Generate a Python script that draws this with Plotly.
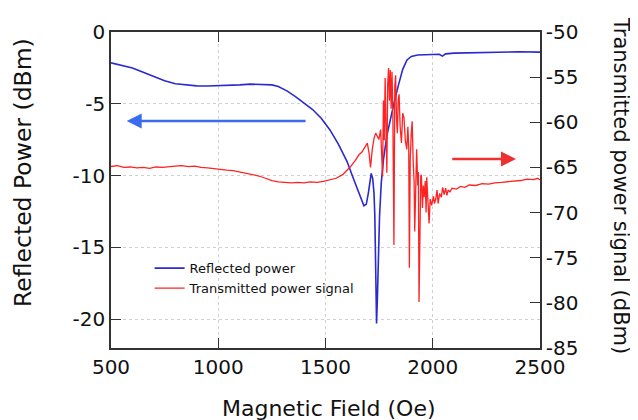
import plotly.graph_objects as go

# Reflected power (left axis, dBm)
field_refl = [500, 550, 600, 650, 700, 750, 800, 850, 900, 950, 1000, 1050, 1100,
              1150, 1200, 1250, 1280, 1320, 1360, 1400, 1440, 1480, 1520, 1560, 1600,
              1630, 1660, 1679, 1690, 1700, 1713, 1720, 1726, 1730, 1734, 1738, 1742,
              1746, 1752, 1760, 1770, 1785, 1800, 1820, 1840, 1860, 1880, 1900, 1930,
              1960, 2000, 2030, 2045, 2060, 2100, 2200, 2300, 2400, 2500]
refl_power = [-2.15, -2.3, -2.5, -2.8, -3.1, -3.4, -3.6, -3.7, -3.75, -3.76, -3.75, -3.72,
              -3.68, -3.63, -3.63, -3.68, -3.8, -4.1, -4.5, -4.95, -5.4, -6.0, -6.8, -7.8,
              -9.0, -10.2, -11.4, -12.1, -12.0, -11.2, -9.85, -10.2, -11.2, -12.8, -16.5,
              -20.3, -18.5, -15.8, -12.8, -10.5, -8.9, -7.3, -6.2, -4.9, -3.7, -2.6, -1.95,
              -1.7, -1.6, -1.58, -1.52, -1.55, -1.68, -1.52, -1.47, -1.43, -1.4, -1.38, -1.4]

# Transmitted power signal (right axis, dBm)
field_trans = [500, 530, 560, 590, 620, 650, 680, 710, 740, 770, 800, 830, 860, 890, 920,
               950, 980, 1010, 1040, 1070, 1100, 1130, 1160, 1190, 1220, 1250, 1280, 1310,
               1340, 1370, 1400, 1430, 1460, 1490, 1520, 1550, 1580, 1617, 1640, 1656,
               1670, 1685, 1695, 1703, 1710, 1718, 1726, 1734, 1741, 1749, 1757, 1762,
               1766, 1770, 1774, 1778, 1782, 1786, 1790, 1794, 1798, 1802, 1806, 1810,
               1814, 1819, 1823, 1827, 1831, 1835, 1839, 1843, 1848, 1854, 1860, 1866,
               1872, 1879, 1884, 1888, 1891, 1895, 1900, 1904, 1909, 1913, 1916, 1920,
               1925, 1930, 1933, 1936, 1940, 1944, 1947, 1952, 1956, 1960, 1965, 1969,
               1972, 1977, 1983, 1988, 1995, 2003, 2008, 2014, 2020, 2025, 2032, 2040,
               2046, 2053, 2060, 2066, 2072, 2080, 2090, 2110, 2130, 2150, 2170, 2200,
               2230, 2260, 2290, 2320, 2350, 2380, 2410, 2440, 2470, 2490, 2500]
trans_power = [-64.9, -64.8, -65.0, -64.95, -65.05, -65.0, -65.1, -64.95, -65.0, -64.9,
               -64.85, -64.8, -64.9, -64.85, -65.0, -65.05, -65.15, -65.2, -65.3, -65.35,
               -65.5, -65.6, -65.8, -65.95, -66.2, -66.45, -66.6, -66.65, -66.7, -66.65,
               -66.7, -66.6, -66.65, -66.55, -66.4, -66.2, -65.8, -64.9, -64.2, -63.6,
               -63.3, -62.7, -62.3, -63.4, -65.0, -63.0, -61.8, -61.2, -61.6, -61.9,
               -60.8, -63.5, -66.0, -57.6, -62.0, -55.1, -60.5, -65.6, -55.8, -54.0,
               -57.6, -54.2, -58.5, -54.4, -59.0, -73.6, -56.0, -54.8, -59.5, -61.2,
               -57.5, -56.9, -60.5, -62.3, -59.0, -59.5, -62.0, -63.0, -60.5, -62.8,
               -76.1, -64.0, -61.2, -59.9, -64.5, -66.5, -72.1, -65.5, -63.0, -67.0,
               -65.5, -79.9, -68.5, -66.0, -65.8, -69.5, -67.0, -68.3, -66.5, -70.0,
               -66.1, -69.0, -71.2, -68.5, -69.2, -68.2, -69.0, -68.5, -67.5, -69.0,
               -67.9, -68.3, -67.2, -68.0, -67.3, -68.1, -67.5, -67.7, -67.3, -67.4,
               -67.1, -67.2, -66.95, -67.0, -66.8, -66.85, -66.7, -66.65, -66.6, -66.5,
               -66.45, -66.3, -66.35, -66.2, -66.4]

x_ticks = [500, 1000, 1500, 2000, 2500]
left_ticks = [0, -5, -10, -15, -20]
left_labels = ['0', '-5', '-10', '-15', '-20']
right_ticks = [-50, -55, -60, -65, -70, -75, -80, -85]
right_labels = ['-50', '-55', '-60', '-65', '-70', '-75', '-80', '-85']

font = 'DejaVu Sans'
axis_col = '#333333'

fig = go.Figure()
fig.add_trace(go.Scatter(x=field_refl, y=refl_power, mode='lines',
                         name='Reflected power',
                         line=dict(color='#2a2ad0', width=1.6)))
fig.add_trace(go.Scatter(x=field_trans, y=trans_power, mode='lines',
                         name='Transmitted power signal', yaxis='y2',
                         line=dict(color='#ff2222', width=1.3)))

# page body adds an 8px offset, so the figure is 8px smaller than the window
fig.update_layout(
    width=630, height=412,
    margin=dict(l=103, r=98, t=19, b=72),
    paper_bgcolor='white', plot_bgcolor='white',
    font=dict(family=font, color='#111111'),
    showlegend=True,
    legend=dict(x=0.09, y=0.3, xanchor='left', yanchor='top',
                bgcolor='rgba(0,0,0,0)', font=dict(size=13, family=font),
                tracegroupgap=0),
    xaxis=dict(range=[500, 2500], tickvals=x_ticks, ticks='inside', ticklen=10,
               tickcolor=axis_col, showline=True, linecolor=axis_col, linewidth=1.5,
               mirror='ticks', showgrid=True, gridcolor='#d0d0d0', griddash='dot',
               zeroline=False, tickfont=dict(size=20)),
    yaxis=dict(range=[-22, 0], tickvals=left_ticks, ticktext=left_labels,
               ticks='inside', ticklen=10,
               tickcolor=axis_col, showline=True, linecolor=axis_col, linewidth=1.5,
               showgrid=True, gridcolor='#d0d0d0', griddash='dot',
               zeroline=False, tickfont=dict(size=20)),
    yaxis2=dict(range=[-85, -50], tickvals=right_ticks, ticktext=right_labels,
                overlaying='y', side='right',
                ticks='inside', ticklen=10, tickcolor=axis_col, showline=True,
                linecolor=axis_col, linewidth=1.5, showgrid=False, zeroline=False,
                tickfont=dict(size=20)),
)

# axis titles
fig.add_annotation(text='Magnetic Field (Oe)', xref='paper', yref='paper',
                   x=0.508, y=-0.193, xanchor='center', yanchor='middle',
                   showarrow=False, font=dict(size=22))
fig.add_annotation(text='Reflected Power (dBm)', xref='paper', yref='paper',
                   x=-0.205, y=0.554, xanchor='center', yanchor='middle',
                   textangle=-90, showarrow=False, font=dict(size=23.5))
fig.add_annotation(text='Transmitted power signal (dBm)', xref='paper', yref='paper',
                   x=1.19, y=0.514, xanchor='center', yanchor='middle',
                   textangle=90, showarrow=False, font=dict(size=21))

# arrows pointing to each axis
fig.add_annotation(x=573, y=-6.2, ax=1414, ay=-6.2, xref='x', yref='y',
                   axref='x', ayref='y', text='', showarrow=True, arrowhead=2,
                   arrowsize=1.2, arrowwidth=2.5, arrowcolor='#3a6cf0')
fig.add_annotation(x=2388, y=-8.84, ax=2084, ay=-8.84, xref='x', yref='y',
                   axref='x', ayref='y', text='', showarrow=True, arrowhead=2,
                   arrowsize=1.2, arrowwidth=2.5, arrowcolor='#f03030')

fig.write_html("out.html")
